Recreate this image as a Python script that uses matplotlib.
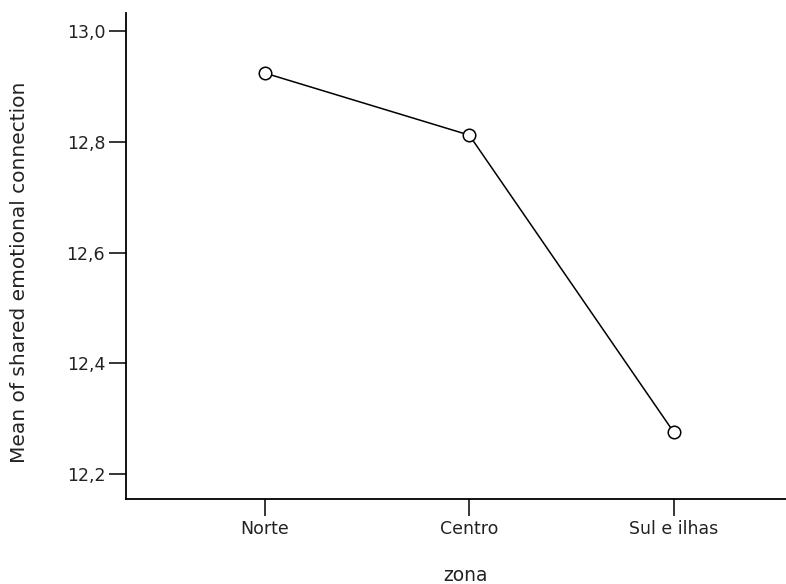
import matplotlib
matplotlib.use("Agg")
import matplotlib.pyplot as plt

zonas = ["Norte", "Centro", "Sul e ilhas"]
medias = [12.924, 12.812, 12.276]
yticks = [12.2, 12.4, 12.6, 12.8, 13.0]
ytick_labels = ["12,2", "12,4", "12,6", "12,8", "13,0"]

plt.rcParams['font.family'] = ['DejaVu Sans']

fig = plt.figure(figsize=(7.86, 5.84), dpi=100)
ax = fig.add_axes([126/786, 1 - 499/584, 1 - 126/786, (499 - 13)/584])

x = list(range(len(zonas)))
ax.plot(x, medias, color='black', lw=1.1, marker='o', markersize=9,
        markerfacecolor='white', markeredgecolor='black', markeredgewidth=1.1)

ax.set_xlim(-0.68, 2.55)
ax.set_ylim(12.155, 13.0325)
ax.set_xticks(x)
ax.set_xticklabels(zonas, fontsize=12.5, color='#222222')
ax.set_yticks(yticks)
ax.set_yticklabels(ytick_labels, fontsize=12.5, color='#222222')
ax.tick_params(axis='both', direction='out', length=12, width=1.1, pad=3)

for s in ['top', 'right']:
    ax.spines[s].set_visible(False)
for s in ['left', 'bottom']:
    ax.spines[s].set_linewidth(1.3)

ax.set_xlabel("zona", fontsize=13.5, color='#222222')
ax.xaxis.set_label_coords((466 - 126)/660, (499 - 566)/486)
ax.set_ylabel("Mean of shared emotional connection", fontsize=14.5, color='#222222')
ax.yaxis.set_label_coords(-(126 - 29)/660, 0.5 + (256 - 272)/486)

fig.savefig("out.png", dpi=100)
